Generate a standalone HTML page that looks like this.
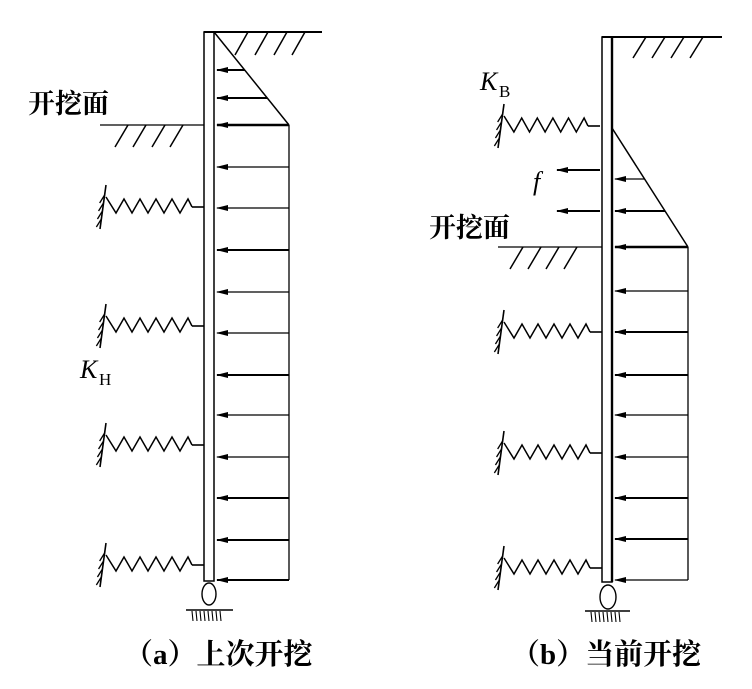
<!DOCTYPE html>
<html><head><meta charset="utf-8"><style>
html,body{margin:0;padding:0;background:#fff;width:752px;height:689px;overflow:hidden}
svg{display:block}
text{font-family:"Liberation Serif","Noto Serif CJK SC",serif;fill:#000}
</style></head><body>
<svg id="s" width="752" height="689" viewBox="0 0 752 689" xmlns="http://www.w3.org/2000/svg" stroke="#000" fill="none" stroke-width="1.3">
<defs><marker id="ah" markerWidth="12" markerHeight="8" refX="11" refY="4" orient="auto" markerUnits="userSpaceOnUse"><path d="M0,1 L12,4 L0,7 Z" fill="#000" stroke="none"/></marker></defs>
<g id="g"></g>
<g stroke="none" font-weight="bold">
<text x="28" y="113" font-size="27">开挖面</text>
<text x="429" y="237" font-size="27">开挖面</text>
<text x="124" y="664" font-size="29">（a）上次开挖</text>
<text x="511" y="664" font-size="29">（b）当前开挖</text>
</g>
<g stroke="none">
<text x="80" y="378" font-size="26" font-style="italic">K</text><text x="99" y="385" font-size="17">H</text>
<text x="480" y="90" font-size="26" font-style="italic">K</text><text x="499" y="97" font-size="17">B</text>
<text x="533" y="190" font-size="26" font-style="italic">f</text>
</g>
</svg>
<script>
var g=document.getElementById('g'),h='';
function L(x1,y1,x2,y2,w,m){h+='<line x1="'+x1+'" y1="'+y1+'" x2="'+x2+'" y2="'+y2+'"'+(w?' stroke-width="'+w+'"':'')+(m?' marker-end="url(#ah)"':'')+'/>';}
function hatch(xs,y0,y1,dx){xs.forEach(function(x){L(x,y1,x+dx,y0,1.5);});}
function spring(y,xw,xa){L(xw,y,xw-12,y,1.6);var x0=xw-12,p='M'+x0+','+y,n=10,st=(x0-(xa+8))/n;
p+=' L'+(x0-st/2)+','+(y-8);for(var i=1;i<n;i++){p+=' L'+(x0-st/2-i*st)+','+(i%2?y+6:y-8);}
p+=' L'+(xa+2)+','+(y-10);h+='<path d="'+p+'" stroke-width="1.5"/>';L(xa-4,y+22,xa+2,y-22,1.6);for(var k=0;k<4;k++){var yy=y-12+k*8,xx=xa+2-(yy-(y-22))*6/44;L(xx,yy,xx-5,yy+8,1.3);}}
// left panel
h+='<rect x="204" y="32" width="10" height="549" stroke-width="1.5"/>';
L(204,32,322,32,2);hatch([235,255,274,292],32,55,13);
L(214,32,289,125,1.5);L(289,125,289,580,1.3);
L(100,125,204,125,1.3);hatch([115,133,152,170],125,147,13);
[[70,2],[98,2],[125,2.4],[167,1.2],[208,1.2],[250,2],[292,1.2],[333,1.2],[375,2],[415,1.2],[457,1.2],[498,2],[540,2],[580,2]].forEach(function(a){var xe=a[0]<125?214+(a[0]-32)*75/93:289;L(xe,a[0],217,a[0],a[1],true);});
[207,326,445,565].forEach(function(y){spring(y,204,104);});
h+='<ellipse cx="209" cy="594" rx="7" ry="11" stroke-width="1.4"/>';L(186,610,233,610,1.6);for(var i=0;i<8;i++)L(192+i*4,611,193+i*4,621,1.1);
// right panel
h+='<rect x="602" y="37" width="10" height="545" stroke-width="1.5"/>';L(612,37,612,582,2.4);
L(602,37,722,37,2);hatch([633,652,671,690],37,58,13);
L(612,128,688,247,1.5);L(688,247,688,580,1.3);
L(498,247,602,247,1.3);hatch([510,528,546,564],247,269,13);
[[179,1.2],[211,2],[247,2.4],[291,1.2],[332,2],[375,2],[415,1.2],[457,1.2],[498,2],[539,2],[580,1.2]].forEach(function(a){var xe=a[0]<247?612+(a[0]-128)*76/119:688;L(xe,a[0],615,a[0],a[1],true);});
L(600,170,557,170,2,true);L(600,211,557,211,2,true);
spring(126,600,502);
[332,453,568].forEach(function(y){spring(y,602,502);});
h+='<ellipse cx="608" cy="597" rx="8" ry="12" stroke-width="1.4"/>';L(585,611,630,611,1.6);for(var i=0;i<8;i++)L(591+i*4,612,592+i*4,622,1.1);
g.innerHTML=h;
</script>
</body></html>
